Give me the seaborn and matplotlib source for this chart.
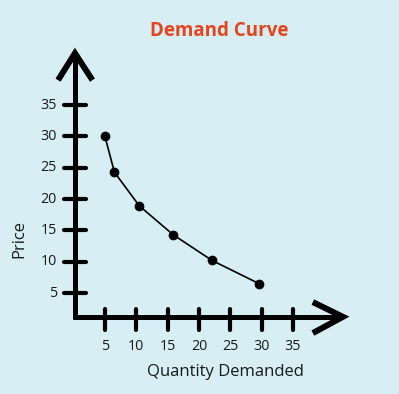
import matplotlib
matplotlib.use("Agg")
import matplotlib.pyplot as plt
import seaborn as sns
import pandas as pd

# data
quantity = [5, 6.5, 10.5, 15.9, 22.1, 29.6]
price = [30, 24.3, 18.9, 14.3, 10.2, 6.5]
x_ticks = [5, 10, 15, 20, 25, 30, 35]
y_ticks = [5, 10, 15, 20, 25, 30, 35]

bg = "#D6EEF4"
title_color = "#E8441A"

sns.set_theme(style="white")
plt.rcParams["font.family"] = ["Open Sans", "DejaVu Sans"]

fig = plt.figure(figsize=(3.99, 3.94), dpi=100, facecolor=bg)
ax = fig.add_axes([0, 0, 1, 1])
ax.set_facecolor(bg)
ax.set_xlim(-11.77, 51.96)
ax.set_ylim(-11.13, 51.8)
ax.axis("off")

# axes with arrow heads
ax.plot([0.2, 0.2], [0.85, 43.0], color="black", lw=3.6, solid_capstyle="butt")
ax.plot([-0.1, 42.6], [1.2, 1.2], color="black", lw=3.6, solid_capstyle="butt")
ax.plot([-2.5, 0.2, 3.0], [39.0, 43.3, 39.0], color="black", lw=4.3,
        solid_capstyle="butt", solid_joinstyle="miter")
ax.plot([38.2, 43.0, 38.2], [3.55, 1.2, -1.4], color="black", lw=4.3,
        solid_capstyle="butt", solid_joinstyle="miter")

# tick marks crossing the axes
for t in x_ticks:
    ax.plot([t, t], [-0.9, 2.5], color="black", lw=3, solid_capstyle="round")
    ax.text(t, -3.6, str(t), ha="center", va="center", fontsize=10.3, color="#1a1a1a")
for t in y_ticks:
    ax.plot([-1.5, 1.9], [t, t], color="black", lw=3, solid_capstyle="round")
    ax.text(-2.7, t, str(t), ha="right", va="center", fontsize=10.3, color="#1a1a1a")

# demand curve
df = pd.DataFrame({"Quantity": quantity, "Price": price})
sns.lineplot(data=df, x="Quantity", y="Price", ax=ax, color="black", lw=1.2, sort=False)
sns.scatterplot(data=df, x="Quantity", y="Price", ax=ax, color="black", s=42,
                edgecolor="black", zorder=5)
ax.axis("off")

ax.text(24.3, -7.6, "Quantity Demanded", ha="center", va="center", fontsize=12,
        color="#1a1a1a")
ax.text(-8.6, 13.6, "Price", ha="center", va="center", rotation=90, fontsize=12,
        color="#1a1a1a")
ax.text(23.2, 46.8, "Demand Curve", ha="center", va="center", fontsize=13.5,
        fontweight="bold", color=title_color)

fig.savefig("out.png", dpi=100, facecolor=bg)
